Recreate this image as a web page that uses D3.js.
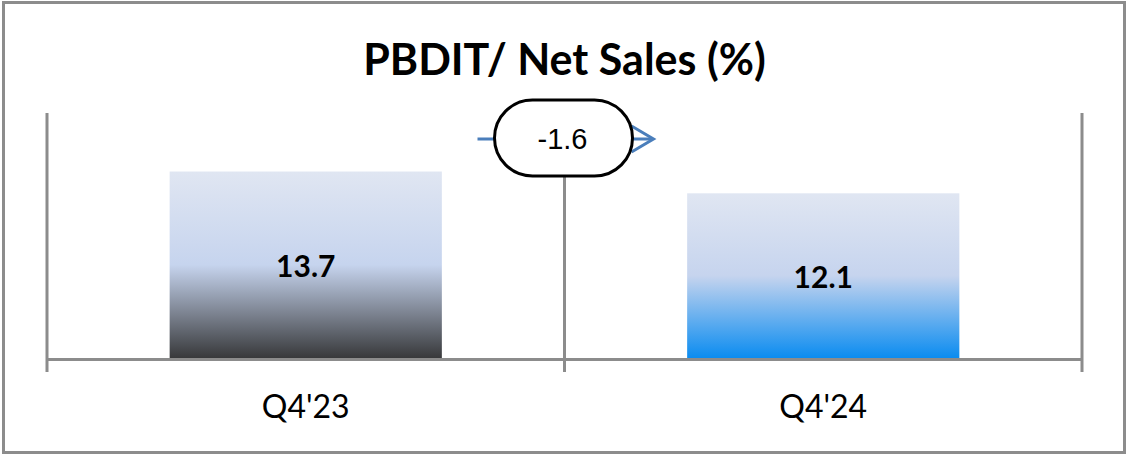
<!DOCTYPE html>
<html>
<head>
<meta charset="utf-8">
<script src="https://cdn.jsdelivr.net/npm/d3@7"></script>
<style>
  body { margin: 0; background: #fff; }
  svg { display: block; }
</style>
</head>
<body>
<svg id="chart" width="1127" height="455"></svg>
<script>
const title = "PBDIT/ Net Sales (%)";
const categories = ["Q4'23", "Q4'24"];
const values = [13.7, 12.1];
const yMax = 18;

// bottom colour of each bar's gradient (top half is the same pale blue)
const barBottoms = ["#38393b", "#0b8cf0"];

const svg = d3.select("#chart");
const width = +svg.attr("width");
const height = +svg.attr("height");

const plotLeft = 47, plotRight = 1082, plotTop = 113, base = 358;

const x = d3.scaleBand().domain(categories).range([plotLeft, plotRight]).padding(0);
const y = d3.scaleLinear().domain([0, yMax]).range([base, plotTop]);
const barW = x.bandwidth() * 0.526;

// outer frame
svg.append("rect")
  .attr("x", 3.5).attr("y", 2.5)
  .attr("width", width - 6).attr("height", height - 5)
  .attr("fill", "#fff")
  .attr("stroke", "#8c8c8c")
  .attr("stroke-width", 3);

const defs = svg.append("defs");
barBottoms.forEach((c, i) => {
  const g = defs.append("linearGradient")
    .attr("id", "grad" + i)
    .attr("x1", 0).attr("y1", 0).attr("x2", 0).attr("y2", 1);
  g.append("stop").attr("offset", "0%").attr("stop-color", "#e0e6f2");
  g.append("stop").attr("offset", "50%").attr("stop-color", "#c6d4ee");
  g.append("stop").attr("offset", "100%").attr("stop-color", c);
});

// title
svg.append("text")
  .attr("x", (plotLeft + plotRight) / 2)
  .attr("y", 75)
  .attr("text-anchor", "middle")
  .style("font-family", "Lato, sans-serif")
  .style("font-weight", "bold")
  .style("font-size", "43px")
  .attr("fill", "#000")
  .text(title);

// bars
svg.selectAll("rect.bar")
  .data(values)
  .enter().append("rect")
  .attr("class", "bar")
  .attr("x", (d, i) => x(categories[i]) + (x.bandwidth() - barW) / 2)
  .attr("y", d => y(d))
  .attr("width", barW)
  .attr("height", d => base - y(d))
  .attr("fill", (d, i) => `url(#grad${i})`);

// bar labels
svg.selectAll("text.val")
  .data(values)
  .enter().append("text")
  .attr("class", "val")
  .attr("x", (d, i) => x(categories[i]) + x.bandwidth() / 2)
  .attr("y", d => (y(d) + base) / 2 + 12)
  .attr("text-anchor", "middle")
  .style("font-family", "Lato, sans-serif")
  .style("font-weight", "bold")
  .style("font-size", "30px")
  .text(d => d.toFixed(1));

// axis: baseline plus separators between categories
const axisColor = "#8c8c8c";
svg.append("line")
  .attr("x1", plotLeft).attr("x2", plotRight)
  .attr("y1", base + 1.5).attr("y2", base + 1.5)
  .attr("stroke", axisColor).attr("stroke-width", 3);

const seps = [plotLeft].concat(categories.slice(1).map(c => x(c)), [plotRight]);
svg.selectAll("line.sep")
  .data(seps)
  .enter().append("line")
  .attr("class", "sep")
  .attr("x1", d => d).attr("x2", d => d)
  .attr("y1", plotTop).attr("y2", 372)
  .attr("stroke", axisColor).attr("stroke-width", 3);

svg.selectAll("text.cat")
  .data(categories)
  .enter().append("text")
  .attr("class", "cat")
  .attr("x", d => x(d) + x.bandwidth() / 2)
  .attr("y", 418)
  .attr("text-anchor", "middle")
  .style("font-family", "Lato, sans-serif")
  .style("font-size", "32px")
  .attr("fill", "#000")
  .text(d => d);

// change bubble with arrow
const cx = x(categories[1]) - 1, cy = 138;
const arrow = svg.append("g")
  .attr("fill", "none")
  .attr("stroke", "#4a7ebb")
  .attr("stroke-width", 3);
arrow.append("line")
  .attr("x1", cx - 86).attr("x2", cx + 88)
  .attr("y1", cy + 1).attr("y2", cy + 1);
arrow.append("path")
  .attr("d", `M${cx + 68},${cy - 12}L${cx + 90},${cy + 1}L${cx + 68},${cy + 14}`);

svg.append("rect")
  .attr("x", cx - 69).attr("y", cy - 38)
  .attr("width", 138).attr("height", 76)
  .attr("rx", 38).attr("ry", 38)
  .attr("fill", "#fff")
  .attr("stroke", "#000")
  .attr("stroke-width", 3);

svg.append("text")
  .attr("x", cx - 1)
  .attr("y", cy + 11)
  .attr("text-anchor", "middle")
  .style("font-family", "'Liberation Sans', Arial, sans-serif")
  .style("font-size", "29px")
  .text((values[1] - values[0]).toFixed(1));
</script>
</body>
</html>
